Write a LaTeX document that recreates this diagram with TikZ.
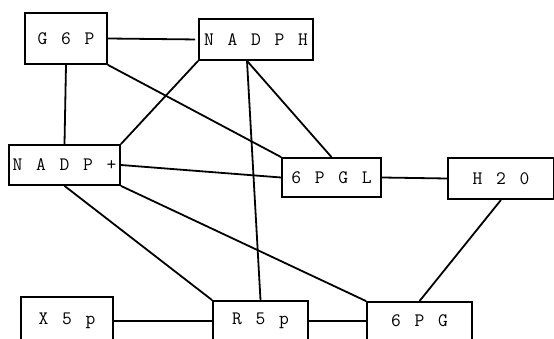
\documentclass[tikz,border=0pt]{standalone}
\usepackage{fontspec}
\newfontfamily\boxfont{Latin Modern Mono}[WordSpace=1.4]
\usetikzlibrary{calc}
\tikzset{
  box/.style={draw, line width=1.8pt, inner sep=0pt, font=\boxfont\fontsize{19}{22}\selectfont},
  link/.style={line width=1.8pt}
}
\begin{document}
\begin{tikzpicture}[x=1pt,y=-1pt]
\useasboundingbox (0,0) rectangle (554,339);
\clip (0,0) rectangle (554,339);
\node[box, minimum width=82pt, minimum height=51pt] (g6p) at (66,38.5) {G 6 P};
\node[box, minimum width=114pt, minimum height=41pt] (nadph) at (256,39.5) {N A D P H};
\node[box, minimum width=111pt, minimum height=40pt] (nadp) at (64.5,165) {N A D P +};
\node[box, minimum width=99pt, minimum height=39pt] (pgl) at (331.5,177.5) {6 P G L};
\node[box, minimum width=106pt, minimum height=41pt] (h2o) at (501,178.5) {\raisebox{-6pt}{H 2 0}};
\node[box, minimum width=92pt, minimum height=48pt] (x5p) at (67,321) {\raisebox{2pt}{X 5 p}};
\node[box, minimum width=95pt, minimum height=40pt] (r5p) at (260.5,321) {\raisebox{2pt}{R 5 p}};
\node[box, minimum width=105pt, minimum height=38pt] (pg) at (419.5,321) {\raisebox{1pt}{6 P G}};
\draw[link, shorten >=3pt] (g6p.east) -- (nadph.west);
\draw[link] (g6p.south) -- (nadp.north);
\draw[link] (g6p.south east) -- (pgl.north west);
\draw[link] (nadph.south west) -- (nadp.north east);
\draw[link] ([xshift=-9pt]nadph.south) -- (r5p.north);
\draw[link] ([xshift=-9pt]nadph.south) -- (pgl.north);
\draw[link] (nadp.east) -- (pgl.west);
\draw[link] (nadp.south) -- (r5p.north west);
\draw[link] (nadp.south east) -- (pg.north west);
\draw[link] (pgl.east) -- (h2o.west);
\draw[link] (h2o.south) -- (pg.north);
\draw[link] (x5p.east) -- (r5p.west);
\draw[link] (r5p.east) -- (pg.west);
\end{tikzpicture}
\end{document}
